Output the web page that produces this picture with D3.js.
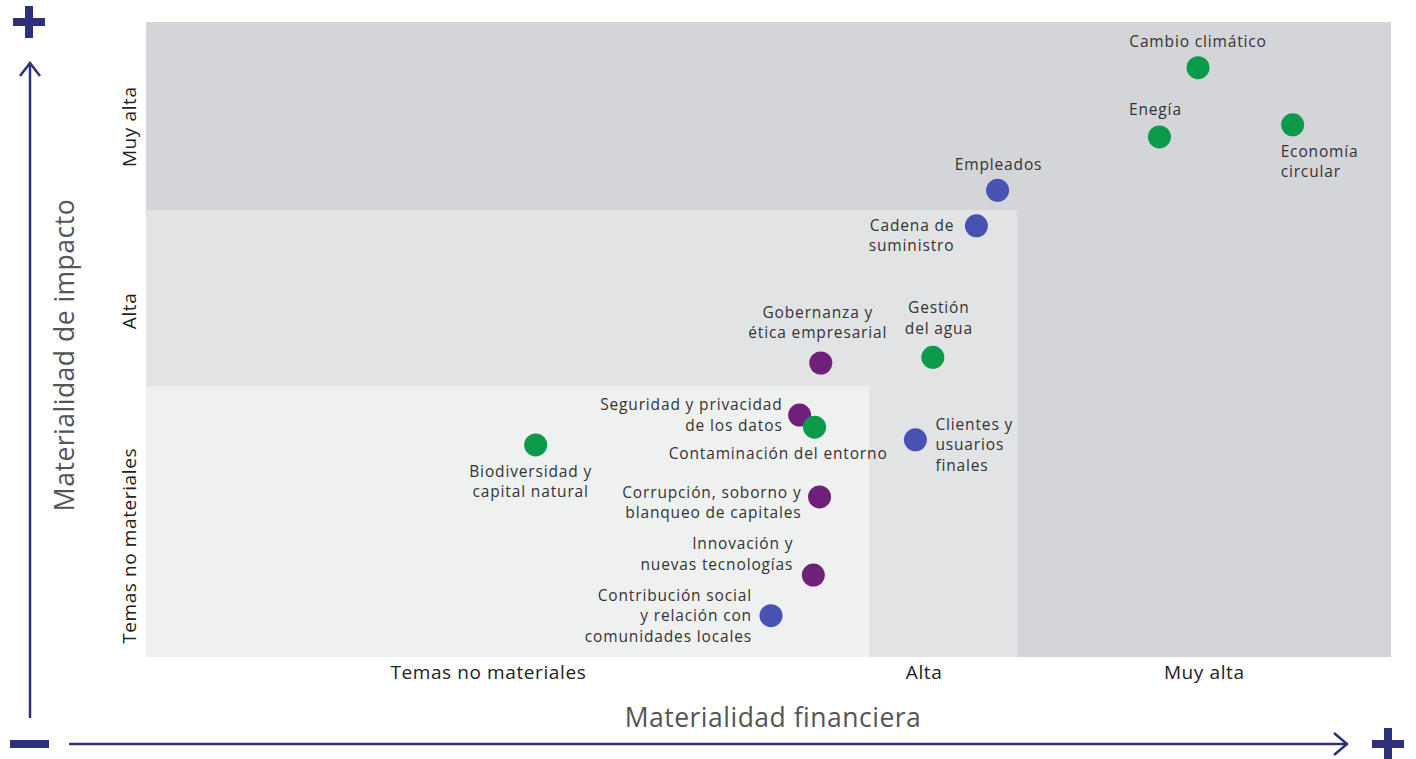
<!DOCTYPE html>
<html>
<meta charset="utf-8">
<style>
    body { margin: 0; background: #fff; }
    text { font-family: "Open Sans", "Noto Sans", sans-serif; }
    .lbl { font-size: 15.5px; fill: #333; letter-spacing: 0.85px; }
    .tick { font-size: 19px; fill: #222; letter-spacing: 0.6px; }
    .title { font-size: 26.5px; fill: #555; letter-spacing: 0.5px; }
</style>

<body>
    <script src="https://d3js.org/d3.v7.min.js"></script>
    <script>

        // data: position of each topic on the matrix (0-100 scales)
        var topics = ["Cambio climático", "Enegía", "Economía circular", "Empleados",
            "Cadena de suministro", "Gobernanza y ética empresarial", "Gestión del agua",
            "Seguridad y privacidad de los datos", "Contaminación del entorno",
            "Clientes y usuarios finales", "Biodiversidad y capital natural",
            "Corrupción, soborno y blanqueo de capitales", "Innovación y nuevas tecnologías",
            "Contribución social y relación con comunidades locales"];
        var financial = [84.5, 81.4, 92.1, 68.4, 66.7, 54.2, 63.2, 52.5, 53.7, 61.8, 31.3, 54.1, 53.6, 50.2];
        var impact = [92.8, 81.9, 83.8, 73.5, 67.9, 46.3, 47.2, 38.1, 36.2, 34.2, 33.4, 25.2, 12.9, 6.5];
        var groups = ["amb", "amb", "amb", "soc", "soc", "gob", "amb", "gob", "amb", "soc", "amb", "gob", "gob", "soc"];

        // band limits and tick labels
        var xBands = [0, 58.1, 70, 100];
        var yBands = [0, 42.7, 70.4, 100];
        var xTicks = ["Temas no materiales", "Alta", "Muy alta"];
        var yTicks = ["Temas no materiales", "Alta", "Muy alta"];

        // label layout (text lines, anchor, offset from point)
        var labelLayout = {
            "Cambio climático": { lines: ["Cambio climático"], anchor: "middle", dx: 0, dy: -21 },
            "Enegía": { lines: ["Enegía"], anchor: "middle", dx: -4, dy: -22 },
            "Economía circular": { lines: ["Economía", "circular"], anchor: "start", dx: -12, dy: 32 },
            "Empleados": { lines: ["Empleados"], anchor: "middle", dx: 1, dy: -20 },
            "Cadena de suministro": { lines: ["Cadena de", "suministro"], anchor: "end", dx: -22, dy: 5 },
            "Gobernanza y ética empresarial": { lines: ["Gobernanza y", "ética empresarial"], anchor: "middle", dx: -3, dy: -45 },
            "Gestión del agua": { lines: ["Gestión", "del agua"], anchor: "middle", dx: 6, dy: -44 },
            "Seguridad y privacidad de los datos": { lines: ["Seguridad y privacidad", "de los datos"], anchor: "end", dx: -17, dy: -5 },
            "Contaminación del entorno": { lines: ["Contaminación del entorno"], anchor: "end", dx: 73, dy: 32 },
            "Clientes y usuarios finales": { lines: ["Clientes y", "usuarios", "finales"], anchor: "start", dx: 20, dy: -10 },
            "Biodiversidad y capital natural": { lines: ["Biodiversidad y", "capital natural"], anchor: "middle", dx: -5, dy: 32 },
            "Corrupción, soborno y blanqueo de capitales": { lines: ["Corrupción, soborno y", "blanqueo de capitales"], anchor: "end", dx: -18, dy: 1 },
            "Innovación y nuevas tecnologías": { lines: ["Innovación y", "nuevas tecnologías"], anchor: "end", dx: -20, dy: -26 },
            "Contribución social y relación con comunidades locales": { lines: ["Contribución social", "y relación con", "comunidades locales"], anchor: "end", dx: -19, dy: -15 }
        };

        var color = d3.scaleOrdinal()
            .domain(["amb", "soc", "gob"])
            .range(["#0b9a49", "#4753b2", "#6f2079"]);

        var W = 1416, H = 759;
        var margin = { top: 22, right: 25, bottom: 102, left: 146 };

        var x = d3.scaleLinear().domain([0, 100]).range([margin.left, W - margin.right]);
        var y = d3.scaleLinear().domain([0, 100]).range([H - margin.bottom, margin.top]);

        var svg = d3.select("body").append("svg")
            .attr("width", W)
            .attr("height", H);

        // background bands: darkest covers all, then nested lighter ones
        var bandFill = ["#d4d5d8", "#e1e3e5", "#eff1f1"];
        svg.append("rect")
            .attr("x", x(0)).attr("y", y(100))
            .attr("width", x(100) - x(0)).attr("height", y(0) - y(100))
            .attr("fill", bandFill[0]);
        svg.append("rect")
            .attr("x", x(0)).attr("y", y(yBands[2]))
            .attr("width", x(xBands[2]) - x(0)).attr("height", y(0) - y(yBands[2]))
            .attr("fill", bandFill[1]);
        svg.append("rect")
            .attr("x", x(0)).attr("y", y(yBands[1]))
            .attr("width", x(xBands[1]) - x(0)).attr("height", y(0) - y(yBands[1]))
            .attr("fill", bandFill[2]);

        // x tick labels centred in bands
        var xCenters = [x(27.5), x(62.5), x(85)];
        svg.selectAll(".xt")
            .data(xTicks)
            .enter().append("text")
            .attr("class", "tick")
            .attr("x", function (d, i) { return xCenters[i]; })
            .attr("y", 679)
            .attr("text-anchor", "middle")
            .text(function (d) { return d; });

        // y tick labels (rotated)
        var yCenters = [y(17.5), y(54.5), y(83.5)];
        svg.selectAll(".yt")
            .data(yTicks)
            .enter().append("text")
            .attr("class", "tick")
            .attr("transform", function (d, i) { return "translate(136," + yCenters[i] + ") rotate(-90)"; })
            .attr("text-anchor", "middle")
            .text(function (d) { return d; });

        // axis titles
        svg.append("text")
            .attr("class", "title")
            .attr("x", 773).attr("y", 727)
            .attr("text-anchor", "middle")
            .text("Materialidad financiera");
        svg.append("text")
            .attr("class", "title")
            .attr("transform", "translate(74,355) rotate(-90)")
            .attr("text-anchor", "middle")
            .text("Materialidad de impacto");

        // arrows
        var navy = "#2e3179";
        svg.append("line").attr("x1", 30).attr("y1", 63).attr("x2", 30).attr("y2", 718)
            .attr("stroke", navy).attr("stroke-width", 2.5);
        svg.append("path").attr("d", "M20,76 L30,63 L40,76")
            .attr("fill", "none").attr("stroke", navy).attr("stroke-width", 2.5);
        svg.append("line").attr("x1", 69).attr("y1", 744).attr("x2", 1347).attr("y2", 744)
            .attr("stroke", navy).attr("stroke-width", 2.5);
        svg.append("path").attr("d", "M1334,733 L1347,744 L1334,755")
            .attr("fill", "none").attr("stroke", navy).attr("stroke-width", 2.5);

        // plus / minus signs
        function plus(cx, cy) {
            svg.append("rect").attr("x", cx - 16).attr("y", cy - 4).attr("width", 32).attr("height", 8).attr("fill", navy);
            svg.append("rect").attr("x", cx - 4).attr("y", cy - 16).attr("width", 8).attr("height", 32).attr("fill", navy);
        }
        plus(29, 22);
        plus(1388, 744);
        svg.append("rect").attr("x", 10).attr("y", 740).attr("width", 39).attr("height", 8).attr("fill", navy);

        // points
        var pts = topics.map(function (t, i) {
            return { name: t, fx: financial[i], im: impact[i], g: groups[i] };
        });

        svg.selectAll(".dot")
            .data(pts)
            .enter().append("circle")
            .attr("class", "dot")
            .attr("cx", function (d) { return x(d.fx); })
            .attr("cy", function (d) { return y(d.im); })
            .attr("r", 11.5)
            .attr("fill", function (d) { return color(d.g); });

        // labels
        pts.forEach(function (d) {
            var L = labelLayout[d.name];
            var t = svg.append("text")
                .attr("class", "lbl")
                .attr("text-anchor", L.anchor);
            L.lines.forEach(function (line, j) {
                t.append("tspan")
                    .attr("x", x(d.fx) + L.dx)
                    .attr("y", y(d.im) + L.dy + j * 20.5)
                    .text(line);
            });
        });

    </script>
</body>
</html>
